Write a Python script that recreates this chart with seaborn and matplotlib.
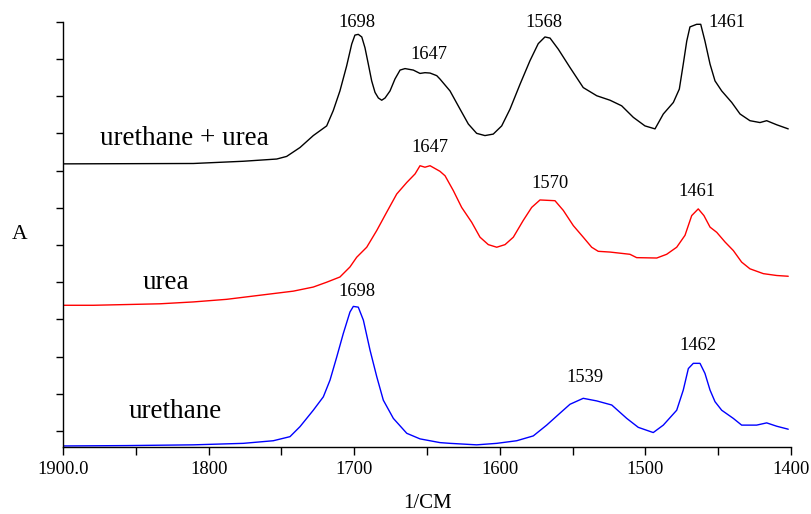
import numpy as np
import pandas as pd
import matplotlib
matplotlib.use("Agg")
import matplotlib.pyplot as plt
import seaborn as sns
from matplotlib.ticker import FixedLocator

# ---------------- data ----------------
wn_mix = [1900, 1810.5, 1776.2, 1753.2, 1746.4, 1737.2, 1728.1, 1718.9, 1714.4, 1709.8,
          1705.2, 1701.7, 1699.5, 1697.2, 1694.8, 1692.6, 1690.3, 1688, 1685.7, 1683.4,
          1681.1, 1678.8, 1675.4, 1672, 1668.5, 1665.1, 1659.4, 1654.8, 1651.4, 1647.9,
          1643.3, 1641.1, 1634.2, 1627.3, 1621.6, 1615.9, 1610.2, 1604.5, 1598.7, 1593,
          1586.1, 1579.3, 1573.6, 1569, 1565.5, 1559.8, 1551.8, 1542.7, 1533.4, 1524.3,
          1516.3, 1508.3, 1500.3, 1493.4, 1487.7, 1480.8, 1476.7, 1474, 1471.6, 1469.4,
          1464.8, 1462, 1459.1, 1455.6, 1452.2, 1447.6, 1440.7, 1435, 1428.2, 1421.3,
          1416.7, 1409.8, 1401.9]
a_mix = [0.760, 0.761, 0.767, 0.773, 0.780, 0.804, 0.836, 0.862, 0.903, 0.956,
         1.023, 1.082, 1.106, 1.108, 1.101, 1.072, 1.028, 0.983, 0.952, 0.937,
         0.931, 0.937, 0.956, 0.988, 1.012, 1.016, 1.012, 1.003, 1.005, 1.004,
         0.997, 0.988, 0.956, 0.907, 0.867, 0.842, 0.836, 0.840, 0.862, 0.907,
         0.974, 1.037, 1.083, 1.101, 1.098, 1.068, 1.019, 0.965, 0.943, 0.931,
         0.916, 0.885, 0.862, 0.854, 0.894, 0.925, 0.961, 1.028, 1.090, 1.128,
         1.135, 1.135, 1.090, 1.028, 0.983, 0.956, 0.925, 0.894, 0.876, 0.871,
         0.876, 0.865, 0.854]

wn_urea = [1899.8, 1879.2, 1856.2, 1833.4, 1810.5, 1787.6, 1764.7, 1741.8, 1728.1, 1718.9,
           1709.8, 1702.9, 1698.3, 1691.4, 1684.5, 1677.7, 1670.8, 1663.9, 1658.2, 1654.8,
           1651.4, 1647.9, 1641.1, 1637.6, 1631.9, 1626.2, 1619.3, 1613.6, 1607.9, 1602.1,
           1596.4, 1590.7, 1583.9, 1578.1, 1572.4, 1562.1, 1556.4, 1549.5, 1542.7, 1536.9,
           1532.4, 1524.3, 1510.6, 1506, 1492.2, 1485.4, 1478.5, 1472.8, 1468.2, 1463.7,
           1459.8, 1455.6, 1451, 1445.3, 1439.6, 1433.9, 1428.2, 1419, 1409.8, 1401.9]
a_urea = [0.380, 0.380, 0.382, 0.384, 0.389, 0.396, 0.407, 0.418, 0.429, 0.442,
          0.456, 0.483, 0.509, 0.536, 0.581, 0.630, 0.679, 0.710, 0.733, 0.755,
          0.751, 0.755, 0.740, 0.728, 0.688, 0.643, 0.603, 0.563, 0.543, 0.536,
          0.543, 0.563, 0.608, 0.643, 0.663, 0.661, 0.635, 0.594, 0.563, 0.536,
          0.525, 0.523, 0.517, 0.508, 0.507, 0.517, 0.536, 0.568, 0.621, 0.639,
          0.621, 0.590, 0.576, 0.550, 0.527, 0.496, 0.478, 0.465, 0.460, 0.458]

wn_ureth = [1899.8, 1856.2, 1810.5, 1776.2, 1755.6, 1744.1, 1737.2, 1728.1, 1721.2, 1716.6,
            1712, 1707.5, 1702.9, 1700.6, 1697.2, 1693.7, 1689.1, 1684.5, 1680, 1673.1,
            1663.9, 1654.8, 1641.1, 1634.2, 1615.9, 1602.1, 1588.4, 1577, 1567.8, 1558.7,
            1551.8, 1542.7, 1533.4, 1523.1, 1512.8, 1504.9, 1494.6, 1487.7, 1478.5, 1474,
            1470.5, 1467.1, 1462.5, 1459.1, 1455.6, 1452.2, 1447.6, 1439.6, 1433.9, 1423.6,
            1416.7, 1409.8, 1401.9]
a_ureth = [0.002, 0.003, 0.005, 0.009, 0.016, 0.027, 0.054, 0.098, 0.134, 0.179,
           0.241, 0.304, 0.362, 0.377, 0.375, 0.340, 0.259, 0.188, 0.125, 0.076,
           0.036, 0.021, 0.011, 0.009, 0.005, 0.009, 0.016, 0.029, 0.058, 0.090,
           0.114, 0.130, 0.123, 0.112, 0.076, 0.052, 0.038, 0.058, 0.098, 0.152,
           0.210, 0.224, 0.224, 0.197, 0.152, 0.121, 0.098, 0.076, 0.058, 0.058,
           0.064, 0.055, 0.047]

peak_text = ["1698", "1647", "1568", "1461", "1647", "1570", "1461", "1698", "1539", "1462"]
peak_x = [1698.1, 1649, 1570, 1443.9, 1647.9, 1565.5, 1464.6, 1698.1, 1541.5, 1463.9]
peak_y = [1.139, 1.055, 1.139, 1.139, 0.804, 0.708, 0.686, 0.416, 0.186, 0.273]

series_names = ["urethane + urea", "urea", "urethane"]
series_colors = ["black", "red", "blue"]
name_x = [1816.6, 1829.3, 1822.7]
name_y = [0.827, 0.442, 0.094]

xtick_vals = [1900, 1800, 1700, 1600, 1500, 1400]
xtick_labels = ["1900.0", "1800", "1700", "1600", "1500", "1400"]
xminor_vals = [1850, 1750, 1650, 1550, 1450]
ytick_vals = [0.042 + 0.1 * k for k in range(12)]

# ---------------- plot ----------------
sns.set_style("ticks")
plt.rcParams["font.family"] = ["Liberation Serif", "DejaVu Serif"]
plt.rcParams["text.color"] = "black"
plt.rcParams["axes.labelcolor"] = "black"
plt.rcParams["xtick.color"] = "black"
plt.rcParams["ytick.color"] = "black"

fig = plt.figure(figsize=(8.12, 5.14), dpi=100)
ax = fig.add_axes([63 / 812, (514 - 446.7) / 514, 728 / 812, (446.7 - 21.7) / 514])

for wn, a, c in [(wn_mix, a_mix, series_colors[0]),
                 (wn_urea, a_urea, series_colors[1]),
                 (wn_ureth, a_ureth, series_colors[2])]:
    df = pd.DataFrame({"wn": wn, "A": a})
    sns.lineplot(data=df, x="wn", y="A", color=c, linewidth=1.0, sort=False,
                 estimator=None, ax=ax)

ax.set_xlim(1900, 1400)
ax.set_ylim(0, 1.142)

ax.xaxis.set_major_locator(FixedLocator(xtick_vals))
ax.set_xticklabels(xtick_labels)
ax.xaxis.set_minor_locator(FixedLocator(xminor_vals))
ax.yaxis.set_major_locator(FixedLocator(ytick_vals))
ax.set_yticklabels([])

ax.tick_params(axis="x", which="both", direction="out", length=6, width=1,
               labelsize=13.3, pad=4, colors="black")
ax.tick_params(axis="y", which="both", direction="out", length=5, width=1,
               colors="black")

for s in ["top", "right"]:
    ax.spines[s].set_visible(False)
for s in ["left", "bottom"]:
    ax.spines[s].set_linewidth(1.0)
    ax.spines[s].set_color("black")

ax.set_xlabel("1/CM", fontsize=15, labelpad=12, color="black")
ax.set_ylabel("")
fig.text(19.5 / 812, 1 - 235 / 514, "A", fontsize=15.6, ha="center", va="center",
         color="black")

for t, x, y in zip(peak_text, peak_x, peak_y):
    ax.text(x, y, t, fontsize=13.3, ha="center", va="center", clip_on=False,
            color="black")

for t, x, y in zip(series_names, name_x, name_y):
    ax.text(x, y, t, fontsize=19.5, ha="center", va="center", color="black")

fig.savefig("out.png", dpi=100)
